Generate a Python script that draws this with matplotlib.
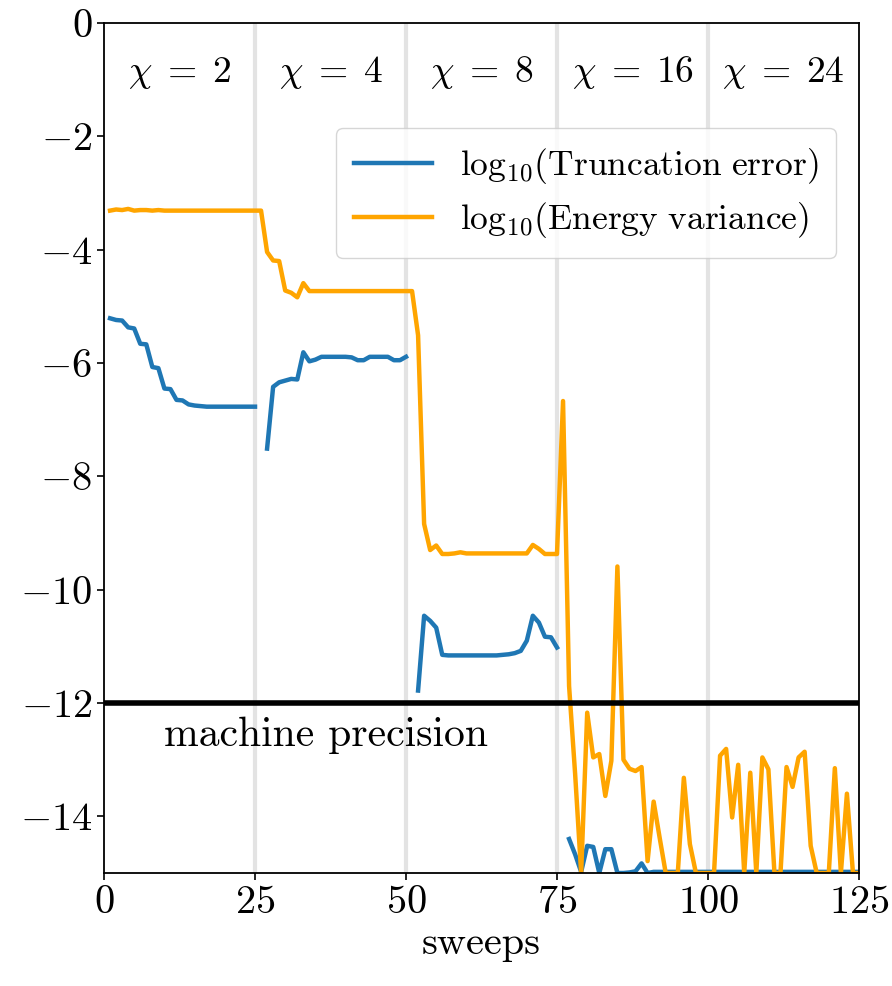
import numpy as np
import matplotlib
matplotlib.use("Agg")
import matplotlib.pyplot as plt

plt.rcParams["font.family"] = "serif"
plt.rcParams["font.serif"] = ["cmr10"]
plt.rcParams["mathtext.fontset"] = "cm"
plt.rcParams["axes.formatter.use_mathtext"] = True
plt.rcParams["axes.unicode_minus"] = True

# sweep index
sweeps = np.arange(1, 126)

# log10 of the truncation error (gaps where the bond dimension is raised)
trunc_chi2 = [-5.21, -5.24, -5.25, -5.37, -5.39, -5.66, -5.67, -6.07, -6.09, -6.45,
              -6.46, -6.65, -6.66, -6.73, -6.75, -6.76, -6.77, -6.77, -6.77, -6.77,
              -6.77, -6.77, -6.77, -6.77, -6.77]
trunc_chi4 = [-7.51, -6.42, -6.34, -6.31, -6.28, -6.29, -5.81, -5.97, -5.94, -5.89,
              -5.89, -5.89, -5.89, -5.89, -5.90, -5.95, -5.95, -5.89, -5.89, -5.89,
              -5.89, -5.95, -5.95, -5.89]
trunc_chi8 = [-11.78, -10.46, -10.55, -10.67, -11.15, -11.16, -11.16, -11.16, -11.16, -11.16,
              -11.16, -11.16, -11.16, -11.16, -11.15, -11.14, -11.12, -11.08, -10.90, -10.46,
              -10.58, -10.83, -10.84, -11.02]
trunc_chi16 = [-14.40, -14.67, -14.98, -14.52, -14.54, -15.00, -14.58, -14.58, -15.00, -15.00,
               -14.99, -14.97, -14.83, -15.00, -14.98, -14.98, -14.98, -14.98, -14.98, -14.98,
               -14.98, -14.98, -14.98, -14.98, -14.98, -14.98, -14.98, -14.98, -14.98, -14.98,
               -14.98, -14.98, -14.98, -14.98, -14.98, -14.98, -14.98, -14.98, -14.98, -14.98,
               -14.98, -14.98, -14.98, -14.98, -14.98, -14.98, -14.98, -14.98, -14.98]

trunc_err = np.array(trunc_chi2 + [np.nan] + trunc_chi4 + [np.nan]
                     + trunc_chi8 + [np.nan] + trunc_chi16)

# log10 of the energy variance
energy_var = np.array([
    -3.31, -3.29, -3.30, -3.28, -3.31, -3.30, -3.30, -3.31, -3.30, -3.31,
    -3.31, -3.31, -3.31, -3.31, -3.31, -3.31, -3.31, -3.31, -3.31, -3.31,
    -3.31, -3.31, -3.31, -3.31, -3.31, -3.31, -4.04, -4.19, -4.20, -4.72,
    -4.76, -4.84, -4.59, -4.73, -4.73, -4.73, -4.73, -4.73, -4.73, -4.73,
    -4.73, -4.73, -4.73, -4.73, -4.73, -4.73, -4.73, -4.73, -4.73, -4.73,
    -4.73, -5.51, -8.84, -9.30, -9.22, -9.37, -9.37, -9.36, -9.34, -9.36,
    -9.36, -9.36, -9.36, -9.36, -9.36, -9.36, -9.36, -9.36, -9.36, -9.36,
    -9.21, -9.28, -9.37, -9.37, -9.37, -6.67, -11.70, -13.25, -15.00, -12.17,
    -12.96, -12.90, -13.64, -13.02, -9.59, -13.00, -13.16, -13.20, -13.13, -14.79,
    -13.74, -14.38, -15.00, -15.00, -15.00, -13.32, -14.49, -15.00, -15.00, -15.00,
    -15.00, -12.93, -12.81, -14.02, -13.09, -15.00, -13.23, -15.00, -12.96, -13.17,
    -15.00, -15.00, -13.13, -13.48, -12.96, -12.86, -14.52, -15.00, -15.00, -15.00,
    -13.15, -15.00, -13.60, -15.00, -15.00,
])

# bond-dimension stages
chi_values = [2, 4, 8, 16, 24]
stage_edges = [0, 25, 50, 75, 100, 125]
machine_precision = -12

fig = plt.figure(figsize=(8.92, 9.86), dpi=100)
ax = fig.add_axes([0.1166, 0.1146, 0.8464, 0.862])

for edge in stage_edges[1:-1]:
    ax.axvline(edge, color="#e3e3e3", lw=3, zorder=0)

ax.plot(sweeps, trunc_err, color="#1f77b4", lw=3.2,
        label=r"$\mathrm{log}_{10}(\mathrm{Truncation\ error})$", zorder=2)
ax.plot(sweeps, energy_var, color="orange", lw=3.2,
        label=r"$\mathrm{log}_{10}(\mathrm{Energy\ variance})$", zorder=2)

ax.axhline(machine_precision, color="black", lw=4, zorder=3)
ax.text(10, -12.76, "machine precision", fontsize=30, ha="left", va="baseline")

for chi, lo, hi in zip(chi_values, stage_edges[:-1], stage_edges[1:]):
    ax.text((lo + hi) / 2, -0.88, rf"$\chi\;=\;{chi}$", fontsize=27,
            ha="center", va="center")

ax.set_xlim(0, 125)
ax.set_ylim(-15, 0)
ax.set_xticks([0, 25, 50, 75, 100, 125])
ax.set_yticks([0, -2, -4, -6, -8, -10, -12, -14])
ax.tick_params(labelsize=29, length=5, width=1.2)
for sp in ax.spines.values():
    sp.set_linewidth(1.3)
ax.set_xlabel("sweeps", fontsize=29, labelpad=4)

ax.legend(loc="upper right", bbox_to_anchor=(0.993, 0.897), fontsize=25.5,
          handlelength=2.2, borderpad=0.5, labelspacing=0.4)

fig.savefig("out.png", dpi=100)
